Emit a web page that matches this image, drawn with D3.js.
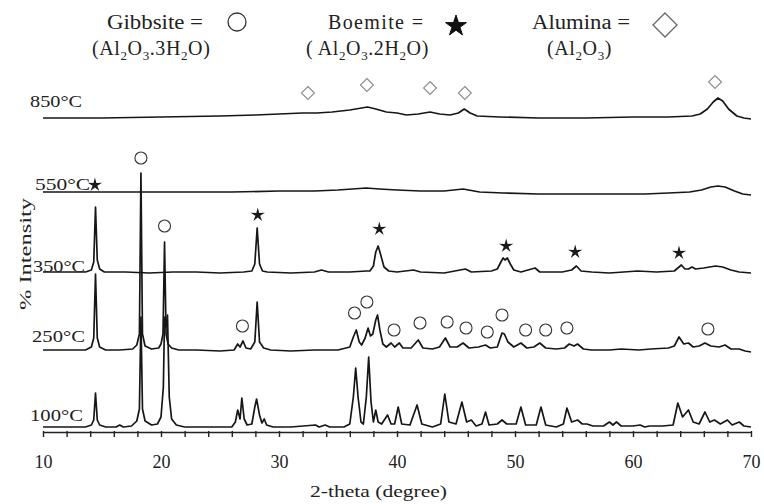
<!DOCTYPE html>
<html>
<head>
<meta charset="utf-8">
<script src="https://cdn.jsdelivr.net/npm/d3@7"></script>
<style>
  html, body { margin: 0; padding: 0; background: #fff; }
  svg { display: block; }
  text { font-family: "Liberation Serif", "Times New Roman", serif; fill: #222; }
</style>
</head>
<body>
<svg id="chart" width="764" height="504"></svg>
<script>
// Calcination series: diffraction patterns, [2-theta, net intensity above the trace baseline]
const temperatures = ["850°C", "550°C", "350°C", "250°C", "100°C"];
const traceOffsets = [315, 240, 160, 82, 5];

const pattern850 = [[10,-1],[15,-1],[20,0],[25,1],[28,2],[30,3],[32,4],[33.2,4],[34.5,5],[36,7],[37.5,10],[38.2,8],[39.1,5],[40,4],[40.8,2],[41.8,3],[42.8,5],[43.6,3],[44.5,2],[45.2,4],[45.7,8],[46.2,4],[46.8,1],[48.7,0],[52,-1],[56,-1],[60,0],[63,0],[65,1],[65.7,3],[66.3,8],[66.8,15],[67.2,19],[67.6,16],[68.1,8],[68.8,1],[69.4,-1],[70,-2]];

const pattern550 = [[10,0],[14,0],[18,0],[22,0],[26,0],[30,1],[33,1],[35,2],[37.4,4],[38.5,3],[40,2],[42,1],[44,1],[45.6,3],[47,0],[49,-1],[52,-2],[55,-2],[58,-2],[61,-2],[63,-1],[64.8,0],[65.8,2],[66.6,5],[67.2,6],[67.8,5],[68.6,1],[69.3,-2],[70,-3]];

const pattern350 = [[10,0],[12,0],[13.6,0],[14.1,2],[14.3,10],[14.45,65],[14.6,12],[14.8,3],[15.2,0],[17,0],[19,-1],[21,0],[23,0],[25,-1],[27,0],[27.7,1],[27.95,8],[28.15,44],[28.35,8],[28.6,1],[29,0],[31,-1],[33,0],[33.6,2],[34.2,0],[36,0],[37.4,1],[37.7,1],[38.0,6],[38.2,20],[38.4,26],[38.6,18],[38.9,5],[39.3,1],[40,0],[41.4,2],[42,0],[44,-1],[45.8,3],[46.3,0],[48,1],[48.5,3],[48.85,11],[49.0,14],[49.15,12],[49.35,14],[49.6,8],[49.9,2],[50.5,0],[51.7,4],[52.1,0],[54,0],[54.8,2],[55.2,6],[55.6,1],[56.5,0],[58,-1],[60.4,1],[62,0],[63.5,1],[63.9,5],[64.1,7],[64.4,3],[64.7,3],[65.0,5],[65.3,3],[66,4],[67,6],[67.6,5],[68.3,2],[69,0],[70,-1]];

const pattern250 = [[10,0],[13.6,0],[14.1,3],[14.3,12],[14.45,76],[14.6,12],[14.8,3],[15.3,0],[16.5,0],[17.6,1],[17.95,5],[18.17,16],[18.3,177],[18.43,16],[18.65,4],[19.2,1],[19.8,2],[20.0,6],[20.17,16],[20.3,108],[20.43,16],[20.6,6],[20.9,2],[21.5,0],[23,0],[25,-1],[26.2,0],[26.5,6],[26.7,3],[26.95,9],[27.2,2],[27.6,1],[27.95,8],[28.15,48],[28.35,8],[28.7,2],[29.3,0],[31,-1],[33,0],[35,0],[36.0,3],[36.3,13],[36.55,20],[36.8,8],[37.0,5],[37.3,12],[37.55,22],[37.75,14],[37.95,16],[38.2,30],[38.35,35],[38.55,20],[38.8,6],[39.1,3],[39.5,7],[39.8,3],[40.2,7],[40.5,2],[41.2,2],[41.8,10],[42.2,2],[43,1],[43.6,3],[44.1,12],[44.5,3],[45.1,3],[45.6,7],[46.1,2],[46.9,3],[47.5,5],[47.9,2],[48.5,3],[48.9,17],[49.1,16],[49.4,8],[49.9,3],[50.5,7],[51,2],[51.6,3],[52.1,7],[52.6,2],[53.5,1],[54.2,2],[54.6,6],[55.0,4],[55.3,6],[55.8,1],[56.5,0],[58,0],[59,1],[60.5,0],[61.5,1],[63,2],[63.5,4],[63.9,13],[64.3,6],[64.7,7],[65.1,3],[65.6,4],[66.1,7],[66.6,4],[67.3,3],[67.8,5],[68.3,1],[69,1],[69.5,-1],[70,-2]];

const pattern100 = [[10,0],[13.6,0],[14.1,2],[14.3,7],[14.45,34],[14.6,7],[14.8,2],[15.3,0],[16.2,0],[16.5,2],[16.8,0],[17.5,1],[17.95,6],[18.17,18],[18.3,110],[18.43,18],[18.65,6],[19.2,2],[19.7,3],[20.0,10],[20.2,40],[20.3,110],[20.42,100],[20.55,112],[20.7,30],[20.9,8],[21.3,2],[22,0],[24,0],[26,0],[26.3,5],[26.5,17],[26.7,8],[26.85,29],[27.05,8],[27.3,2],[27.7,3],[27.95,20],[28.1,28],[28.35,12],[28.55,4],[28.75,8],[28.95,2],[29.5,0],[31,0],[33.1,2],[33.4,0],[33.9,2],[34.3,0],[35.5,0],[36.0,3],[36.3,30],[36.5,59],[36.7,30],[36.95,5],[37.15,3],[37.4,30],[37.6,70],[37.8,25],[38.0,5],[38.2,17],[38.4,5],[38.7,3],[39.2,12],[39.5,3],[39.8,3],[40.1,20],[40.4,3],[41.1,2],[41.7,22],[42.1,3],[43,0],[43.7,3],[44.05,33],[44.4,5],[45.0,3],[45.5,25],[45.9,5],[46.3,7],[46.7,1],[47.2,3],[47.5,15],[47.8,2],[48.5,3],[48.9,7],[49.3,3],[50.1,3],[50.5,20],[50.9,2],[51.8,2],[52.2,20],[52.6,2],[53.5,0],[54.1,3],[54.4,19],[54.8,5],[55.3,7],[55.7,3],[56.1,3],[56.6,1],[57.5,1],[58.0,5],[58.3,2],[58.6,5],[59,1],[60,1],[60.6,2],[61,0],[61.4,1],[62.5,1],[63.4,2],[63.8,24],[64.2,10],[64.7,17],[65.1,5],[65.6,3],[66.1,15],[66.5,5],[66.9,7],[67.4,3],[68.0,7],[68.4,2],[69.0,5],[69.4,1],[70,0]];

const patterns = [pattern850, pattern550, pattern350, pattern250, pattern100];

// Phase markers: [2-theta, level on the stacked intensity scale]
const gibbsiteMarks = [[18.3,274],[20.3,206],[26.9,106],[36.4,119],[37.45,130],[39.75,102],[41.95,109],[44.25,110],[45.85,104],[47.65,100],[48.9,117],[50.9,102],[52.6,102],[54.4,104],[66.35,103]];
const boehmiteMarks = [[14.4,247],[28.2,217],[38.5,203],[49.25,186],[55.1,180],[63.9,179]];
const aluminaMarks = [[32.45,339],[37.45,347],[42.8,344],[45.75,339],[66.95,350]];

const xTickLabels = [10, 20, 30, 40, 50, 60, 70];

// ---- layout ----
const svg = d3.select("#chart");
const x = d3.scaleLinear().domain([10, 70]).range([43, 751]);
const y = d3.scaleLinear().domain([0, 400]).range([432, 32]);

// x axis: ticks every 2 degrees, labels every 10
const axis = d3.axisBottom(x)
  .tickValues(d3.range(10, 71, 2))
  .tickFormat(d => xTickLabels.includes(d) ? d : "")
  .tickSize(5)
  .tickSizeOuter(0);
const gx = svg.append("g").attr("transform", `translate(0,${y(0)})`).call(axis);
gx.select(".domain").attr("stroke", "#222").attr("stroke-width", 1.6);
gx.selectAll(".tick line").attr("stroke", "#222").attr("stroke-width", 1.4).attr("y1", -1);
gx.selectAll(".tick text").filter(d => !xTickLabels.includes(d)).remove();
gx.selectAll(".tick text")
  .attr("y", 36).attr("dy", 0)
  .style("font-family", "'Liberation Serif', serif")
  .style("font-size", "18px").attr("fill", "#222");

svg.append("text")
  .attr("x", 310).attr("y", 497)
  .attr("textLength", 137).attr("lengthAdjust", "spacingAndGlyphs")
  .style("font-size", "17px")
  .text("2-theta (degree)");

svg.append("text")
  .attr("transform", "translate(31,310) rotate(-90)")
  .attr("textLength", 112).attr("lengthAdjust", "spacingAndGlyphs")
  .style("font-size", "16px")
  .text("% Intensity");

// traces
const line = d3.line()
  .x(d => x(d[0]))
  .y(d => y(d[1]));

patterns.forEach((p, i) => {
  const off = traceOffsets[i];
  svg.append("path")
    .datum(p.map(d => [d[0], d[1] + off]))
    .attr("d", line)
    .attr("fill", "none")
    .attr("stroke", "#161616")
    .attr("stroke-width", 1.7)
    .attr("stroke-linejoin", "round");
});

// trace labels
const labelLayout = [
  { x: 30, lift: 10, w: 52 },
  { x: 35, lift: 2, w: 55 },
  { x: 33, lift: 0, w: 52 },
  { x: 32, lift: 8, w: 53 },
  { x: 30, lift: 6, w: 53 }
];
temperatures.forEach((t, i) => {
  const L = labelLayout[i];
  svg.append("text")
    .attr("x", L.x).attr("y", y(traceOffsets[i]) - L.lift)
    .attr("textLength", L.w).attr("lengthAdjust", "spacingAndGlyphs")
    .style("font-size", "17px")
    .text(t);
});

// marker shapes
function starPath(R, ratio) {
  const p = d3.path();
  for (let k = 0; k < 10; k++) {
    const r = k % 2 === 0 ? R : R * ratio;
    const a = -Math.PI / 2 + k * Math.PI / 5;
    const px = r * Math.cos(a), py = r * Math.sin(a);
    if (k === 0) p.moveTo(px, py); else p.lineTo(px, py);
  }
  p.closePath();
  return p.toString();
}
function diamondPath(h) {
  return `M0,${-h}L${h},0L0,${h}L${-h},0Z`;
}

svg.append("g").selectAll("circle")
  .data(gibbsiteMarks).join("circle")
  .attr("cx", d => x(d[0])).attr("cy", d => y(d[1]))
  .attr("r", 6)
  .attr("fill", "none").attr("stroke", "#333").attr("stroke-width", 1.1);

svg.append("g").selectAll("path")
  .data(boehmiteMarks).join("path")
  .attr("transform", d => `translate(${x(d[0])},${y(d[1])})`)
  .attr("d", starPath(7.5, 0.33))
  .attr("fill", "#1a1a1a");

svg.append("g").selectAll("path")
  .data(aluminaMarks).join("path")
  .attr("transform", d => `translate(${x(d[0])},${y(d[1])})`)
  .attr("d", diamondPath(6.5))
  .attr("fill", "none").attr("stroke", "#8c8c8c").attr("stroke-width", 1.1);

// legend: chemical formulas with lowered subscripts
function formula(g, xPos, yPos, parts, spacing) {
  const t = g.append("text").attr("x", xPos).attr("y", yPos)
    .style("font-size", "20px").style("letter-spacing", spacing + "px");
  let lowered = false;
  parts.forEach(([s, sub]) => {
    const ts = t.append("tspan").text(s);
    if (sub && !lowered) { ts.attr("dy", 5).style("font-size", "13px"); lowered = true; }
    else if (sub) { ts.style("font-size", "13px"); }
    else if (lowered) { ts.attr("dy", -5); lowered = false; }
  });
}
const lg = svg.append("g");
lg.append("text").attr("x", 107).attr("y", 29)
  .attr("textLength", 96).attr("lengthAdjust", "spacingAndGlyphs")
  .style("font-size", "20px").text("Gibbsite =");
lg.append("text").attr("x", 328).attr("y", 29)
  .attr("textLength", 95).attr("lengthAdjust", "spacing")
  .style("font-size", "20px").text("Boemite =");
lg.append("text").attr("x", 532).attr("y", 29)
  .attr("textLength", 98).attr("lengthAdjust", "spacingAndGlyphs")
  .style("font-size", "20px").text("Alumina =");

formula(lg, 92, 55, [["(Al"],["2",1],["O"],["3",1],[".3H"],["2",1],["O)"]], 0.6);
formula(lg, 306, 55, [["( Al"],["2",1],["O"],["3",1],[".2H"],["2",1],["O)"]], 0.6);
formula(lg, 547, 55, [["(Al"],["2",1],["O"],["3",1],[")"]], 0.6);

lg.append("circle").attr("cx", 237).attr("cy", 22).attr("r", 9)
  .attr("fill", "none").attr("stroke", "#333").attr("stroke-width", 1.3);
lg.append("path").attr("transform", "translate(456,26)")
  .attr("d", starPath(11, 0.38)).attr("fill", "#111")
  .attr("stroke", "#111").attr("stroke-width", 1);
lg.append("path").attr("transform", "translate(665,25)")
  .attr("d", diamondPath(12))
  .attr("fill", "none").attr("stroke", "#666").attr("stroke-width", 1.3);
</script>
</body>
</html>
